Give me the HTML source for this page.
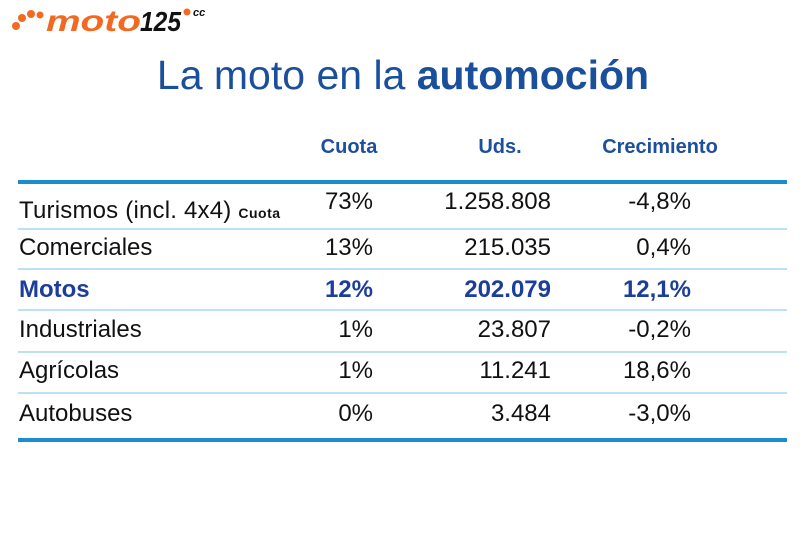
<!DOCTYPE html>
<html><head><meta charset="utf-8"><style>
body{margin:0;width:800px;height:533px;background:#fff;position:relative;overflow:hidden;font-family:"Liberation Sans",sans-serif}
.a{position:absolute;white-space:nowrap}
.t{font-size:24px;color:#111;line-height:28px}
.r{text-align:right}
.h{font-size:20px;font-weight:bold;color:#1d4f9f;line-height:22px}
.ln{position:absolute;left:18px;width:769px;height:2px;background:#bfe0f3}
.th{position:absolute;left:18px;width:769px;height:4px;background:#1b8bd2}
.m{color:#1b3e9c;font-weight:bold}
</style></head><body>
<div class="a" style="left:10px;top:2px;">
<svg width="210" height="32">
<circle cx="6" cy="24" r="4" fill="#f26a21"/><circle cx="12" cy="16" r="4" fill="#f26a21"/><circle cx="21" cy="12" r="4" fill="#f26a21"/><circle cx="30" cy="13" r="3.5" fill="#f26a21"/>
<text x="36" y="29" font-family="Liberation Sans" font-weight="bold" font-style="italic" font-size="30" fill="#f26a21" textLength="95" lengthAdjust="spacingAndGlyphs">moto</text>
<text x="130" y="29" font-family="Liberation Sans" font-weight="bold" font-style="italic" font-size="28" fill="#111" textLength="41" lengthAdjust="spacingAndGlyphs">125</text>
<circle cx="177" cy="10" r="3.5" fill="#f26a21"/>
<text x="183" y="14" font-family="Liberation Sans" font-weight="bold" font-style="italic" font-size="11" fill="#111">cc</text>
</svg></div>
<div class="a" style="left:0;width:806px;text-align:center;top:52px;font-size:41px;color:#1a4f9c;line-height:46px">La moto en la <b>automoción</b></div>
<div class="a h" style="left:299px;width:100px;text-align:center;top:136px">Cuota</div>
<div class="a h" style="left:450px;width:100px;text-align:center;top:136px">Uds.</div>
<div class="a h" style="left:580px;width:160px;text-align:center;top:136px">Crecimiento</div>
<div class="th" style="top:180px"></div>
<div class="ln" style="top:228px"></div>
<div class="ln" style="top:268px"></div>
<div class="ln" style="top:309px"></div>
<div class="ln" style="top:351px"></div>
<div class="ln" style="top:392px"></div>
<div class="th" style="top:438px"></div>

<div class="a t" style="left:19px;top:197px;letter-spacing:0.2px">Turismos (incl. 4x4) <b style="font-size:14px;letter-spacing:0.5px">Cuota</b></div>
<div class="a t r" style="right:427px;top:188px">73%</div>
<div class="a t r" style="right:249px;top:188px">1.258.808</div>
<div class="a t r" style="right:109px;top:188px">-4,8%</div>

<div class="a t" style="left:19px;top:234px">Comerciales</div>
<div class="a t r" style="right:427px;top:234px">13%</div>
<div class="a t r" style="right:249px;top:234px">215.035</div>
<div class="a t r" style="right:109px;top:234px">0,4%</div>

<div class="a t m" style="left:19px;top:276px">Motos</div>
<div class="a t r m" style="right:427px;top:276px">12%</div>
<div class="a t r m" style="right:249px;top:276px">202.079</div>
<div class="a t r m" style="right:109px;top:276px">12,1%</div>

<div class="a t" style="left:19px;top:316px">Industriales</div>
<div class="a t r" style="right:427px;top:316px">1%</div>
<div class="a t r" style="right:249px;top:316px">23.807</div>
<div class="a t r" style="right:109px;top:316px">-0,2%</div>

<div class="a t" style="left:19px;top:357px">Agrícolas</div>
<div class="a t r" style="right:427px;top:357px">1%</div>
<div class="a t r" style="right:249px;top:357px">11.241</div>
<div class="a t r" style="right:109px;top:357px">18,6%</div>

<div class="a t" style="left:19px;top:400px">Autobuses</div>
<div class="a t r" style="right:427px;top:400px">0%</div>
<div class="a t r" style="right:249px;top:400px">3.484</div>
<div class="a t r" style="right:109px;top:400px">-3,0%</div>
</body></html>
